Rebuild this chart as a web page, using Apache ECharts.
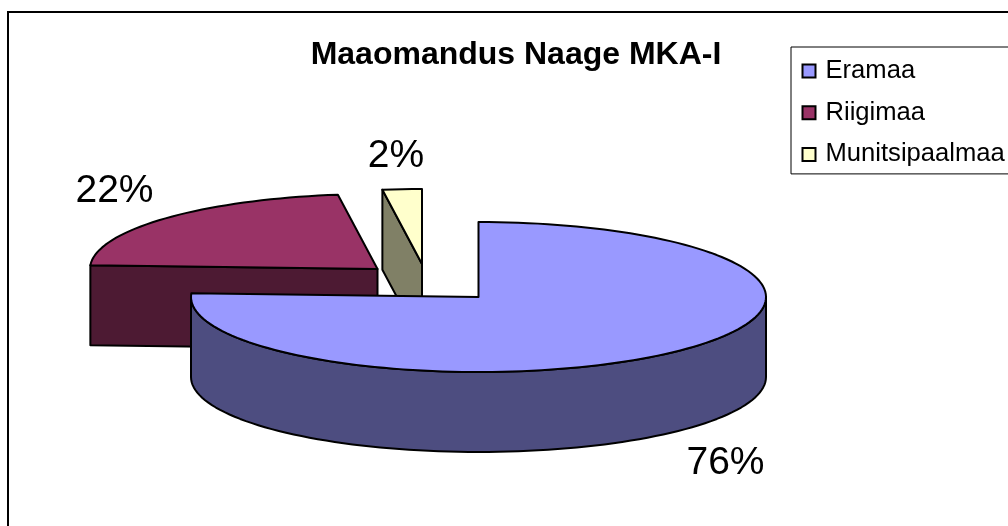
<!DOCTYPE html>
<html>
<head>
<meta charset="utf-8">
<style>html,body{margin:0;padding:0;background:#fff}#c{width:1008px;height:526px}</style>
<script src="https://cdn.jsdelivr.net/npm/echarts@6/dist/echarts.min.js"></script>
</head>
<body>
<div id="c"></div>
<script>
const titleText = 'Maaomandus Naage MKA-I';
const categories = ['Eramaa', 'Riigimaa', 'Munitsipaalmaa'];
const shares = [75.8, 22.0, 2.2];
const topColors = ['#9999FF', '#993366', '#FFFFCC'];
const wallColors = ['#4D4D80', '#4D1A33', '#808066'];

// layout of the exploded 3D pie
const RX = 287.5, RY = 75, DEPTH = 80;
const centers = [[478.5, 297], [377.5, 269], [422, 264]];
const labelPos = [[725.5, 463], [114.5, 191], [396, 156]];

const total = shares.reduce((a, b) => a + b, 0);
function startAngleOf(i) {
  let s = 0;
  for (let k = 0; k < i; k++) s += shares[k];
  return s / total * 360;
}
function pt(c, deg, dy) {
  const r = deg * Math.PI / 180;
  return [c[0] + RX * Math.sin(r), c[1] - RY * Math.cos(r) + (dy || 0)];
}
function arc(c, a0, a1, dy) {
  const pts = [];
  const n = Math.max(2, Math.ceil((a1 - a0) / 2));
  for (let k = 0; k <= n; k++) pts.push(pt(c, a0 + (a1 - a0) * k / n, dy));
  return pts;
}
function poly(points, fill) {
  return {
    type: 'polygon',
    shape: { points },
    style: { fill, stroke: '#000', lineWidth: 2, lineJoin: 'round' }
  };
}
function makeRender(i) {
  return function (params, api) {
    const v = api.value(0);
    const a0 = startAngleOf(i);
    const a1 = a0 + v / total * 360;
    const c = centers[i];
    const wall = wallColors[i];
    const bc = [c[0], c[1] + DEPTH];
    const children = [];
    // only the cut faces that look towards the viewer are drawn
    if (Math.sin(a0 * Math.PI / 180) < -1e-6) {
      children.push(poly([c, pt(c, a0), pt(c, a0, DEPTH), bc], wall));
    }
    if (Math.sin(a1 * Math.PI / 180) > 1e-6) {
      children.push(poly([c, pt(c, a1), pt(c, a1, DEPTH), bc], wall));
    }
    const f0 = Math.max(a0, 90), f1 = Math.min(a1, 270);
    if (f1 > f0) {
      children.push(poly(arc(c, f0, f1, 0).concat(arc(c, f0, f1, DEPTH).reverse()), wall));
    }
    children.push(poly([c].concat(arc(c, a0, a1, 0)), topColors[i]));
    children.push({
      type: 'text',
      style: {
        text: Math.round(v / total * 100) + '%',
        x: labelPos[i][0], y: labelPos[i][1],
        align: 'center', verticalAlign: 'middle',
        font: '39px "Liberation Sans", Arial, sans-serif', fill: '#000'
      }
    });
    return { type: 'group', children };
  };
}

const chart = echarts.init(document.getElementById('c'), null, { renderer: 'canvas' });
chart.setOption({
  animation: false,
  backgroundColor: '#fff',
  title: {
    text: titleText,
    left: 511, top: 34, textAlign: 'center',
    textStyle: { fontFamily: '"Liberation Sans", Arial, sans-serif', fontWeight: 'bold', fontSize: 32, color: '#000' }
  },
  legend: {
    data: categories,
    orient: 'vertical',
    left: 791, top: 47,
    padding: [6.5, 30, 2, 10.5],
    itemWidth: 13, itemHeight: 13, itemGap: 6.7,
    icon: 'rect',
    align: 'left',
    backgroundColor: '#fff',
    borderColor: '#000', borderWidth: 1,
    itemStyle: { borderColor: '#000', borderWidth: 2 },
    textStyle: {
      fontFamily: '"Liberation Sans", Arial, sans-serif', fontSize: 25.6, color: '#000',
      padding: [0, 0, 6, 5], lineHeight: 29
    },
    selectedMode: false
  },
  graphic: [{
    type: 'rect', z: -1, silent: true,
    shape: { x: 8, y: 12, width: 1100, height: 600 },
    style: { fill: 'transparent', stroke: '#000', lineWidth: 2 }
  }],
  series: categories.map((name, i) => ({
    type: 'custom',
    name,
    coordinateSystem: 'none',
    z: 5 - i,
    silent: true,
    itemStyle: { color: topColors[i] },
    data: [[shares[i]]],
    renderItem: makeRender(i)
  }))
});
</script>
</body>
</html>
